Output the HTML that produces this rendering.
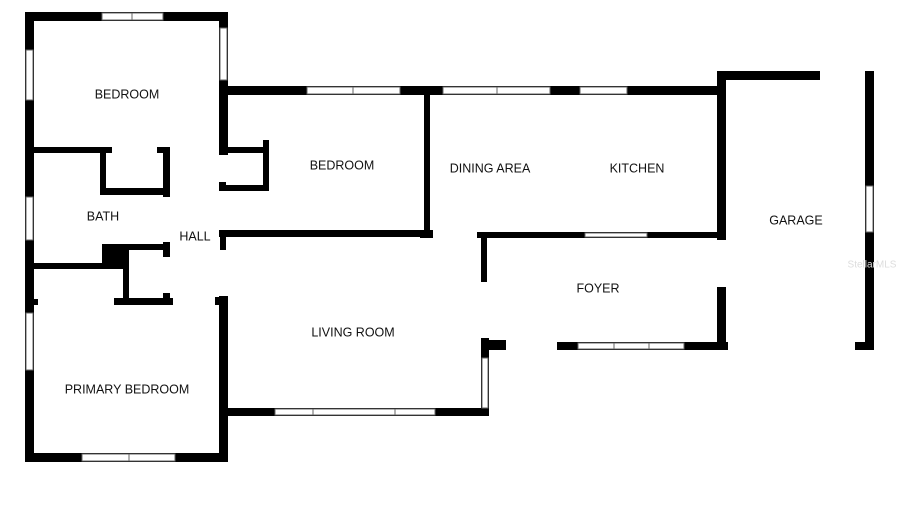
<!DOCTYPE html>
<html><head><meta charset="utf-8"><style>
html,body{margin:0;padding:0;background:#fff;width:900px;height:529px;overflow:hidden}
svg{display:block}
text{font-family:"Liberation Sans",sans-serif;font-size:12.5px;fill:#111;text-anchor:middle;dominant-baseline:middle}
.w{fill:#fff;stroke:#666;stroke-width:1}
</style></head><body>
<svg width="900" height="529" viewBox="0 0 900 529">
<g fill="#000">
<!-- top bedroom -->
<rect x="25" y="12" width="203" height="9"/>
<rect x="25" y="12" width="9" height="450"/>
<rect x="219" y="12" width="9" height="143"/>
<rect x="25" y="147" width="87" height="6"/>
<rect x="157" y="147" width="13" height="6"/>
<rect x="100" y="147" width="6" height="48"/>
<rect x="100" y="188" width="70" height="7"/>
<rect x="163" y="147" width="7" height="50"/>
<!-- bedroom 2 closet -->
<rect x="219" y="147" width="50" height="6"/>
<rect x="263" y="140" width="6" height="51"/>
<rect x="219" y="185" width="50" height="6"/>
<rect x="219" y="182" width="7" height="9"/>
<rect x="219" y="86" width="221" height="9"/>
<rect x="424" y="86" width="6" height="151"/>
<rect x="219" y="230" width="214" height="7"/>
<rect x="220" y="230" width="6" height="20"/>
<!-- dining/kitchen -->
<rect x="420" y="86" width="300" height="9"/>
<rect x="420" y="232" width="13" height="6"/>
<rect x="477" y="232" width="249" height="6"/>
<rect x="717" y="71" width="9" height="169"/>
<rect x="717" y="287" width="9" height="63"/>
<!-- garage -->
<rect x="717" y="71" width="103" height="9"/>
<rect x="865" y="71" width="9" height="279"/>
<rect x="855" y="342" width="19" height="8"/>
<!-- foyer -->
<rect x="557" y="342" width="171" height="8"/>
<rect x="481" y="233" width="6" height="49"/>
<rect x="481" y="338" width="8" height="78"/>
<rect x="481" y="340" width="25" height="10"/>
<!-- bath lower -->
<rect x="102" y="244" width="26" height="24"/>
<rect x="102" y="244" width="68" height="6"/>
<rect x="163" y="242" width="7" height="15"/>
<rect x="123" y="244" width="6" height="59"/>
<rect x="25" y="263" width="103" height="6"/>
<rect x="114" y="298" width="59" height="7"/>
<rect x="163" y="293" width="7" height="12"/>
<rect x="25" y="299" width="13" height="6"/>
<rect x="215" y="297" width="11" height="8"/>
<rect x="219" y="296" width="9" height="166"/>
<rect x="219" y="408" width="270" height="8"/>
<rect x="25" y="453" width="203" height="9"/>
</g>
<g class="w">
<rect x="102" y="13" width="61" height="7"/><line x1="132" y1="13" x2="132" y2="20" stroke="#666"/>
<rect x="220" y="28" width="7" height="52"/>
<rect x="26" y="50" width="7" height="50"/>
<rect x="26" y="197" width="7" height="43"/>
<rect x="26" y="313" width="7" height="57"/>
<rect x="307" y="87" width="93" height="7"/><line x1="353" y1="87" x2="353" y2="94" stroke="#666"/>
<rect x="443" y="87" width="107" height="7"/><line x1="497" y1="87" x2="497" y2="94" stroke="#666"/>
<rect x="580" y="87" width="47" height="7"/>
<rect x="866" y="186" width="7" height="46"/>
<rect x="585" y="233" width="62" height="4"/>
<rect x="578" y="343" width="106" height="6"/><line x1="614" y1="343" x2="614" y2="349" stroke="#666"/><line x1="649" y1="343" x2="649" y2="349" stroke="#666"/>
<rect x="482" y="358" width="6" height="50"/>
<rect x="275" y="409" width="160" height="6"/><line x1="313" y1="409" x2="313" y2="415" stroke="#666"/><line x1="395" y1="409" x2="395" y2="415" stroke="#666"/>
<rect x="82" y="454" width="93" height="7"/><line x1="129" y1="454" x2="129" y2="461" stroke="#666"/>
</g>
<text x="127" y="95">BEDROOM</text>
<text x="342" y="166">BEDROOM</text>
<text x="103" y="217">BATH</text>
<text x="195" y="237">HALL</text>
<text x="490" y="169">DINING AREA</text>
<text x="637" y="169">KITCHEN</text>
<text x="796" y="221">GARAGE</text>
<text x="598" y="289">FOYER</text>
<text x="353" y="333">LIVING ROOM</text>
<text x="127" y="390">PRIMARY BEDROOM</text>
<text x="872" y="265" style="font-size:10px;fill:#ddd">StellarMLS</text>
</svg>
</body></html>
